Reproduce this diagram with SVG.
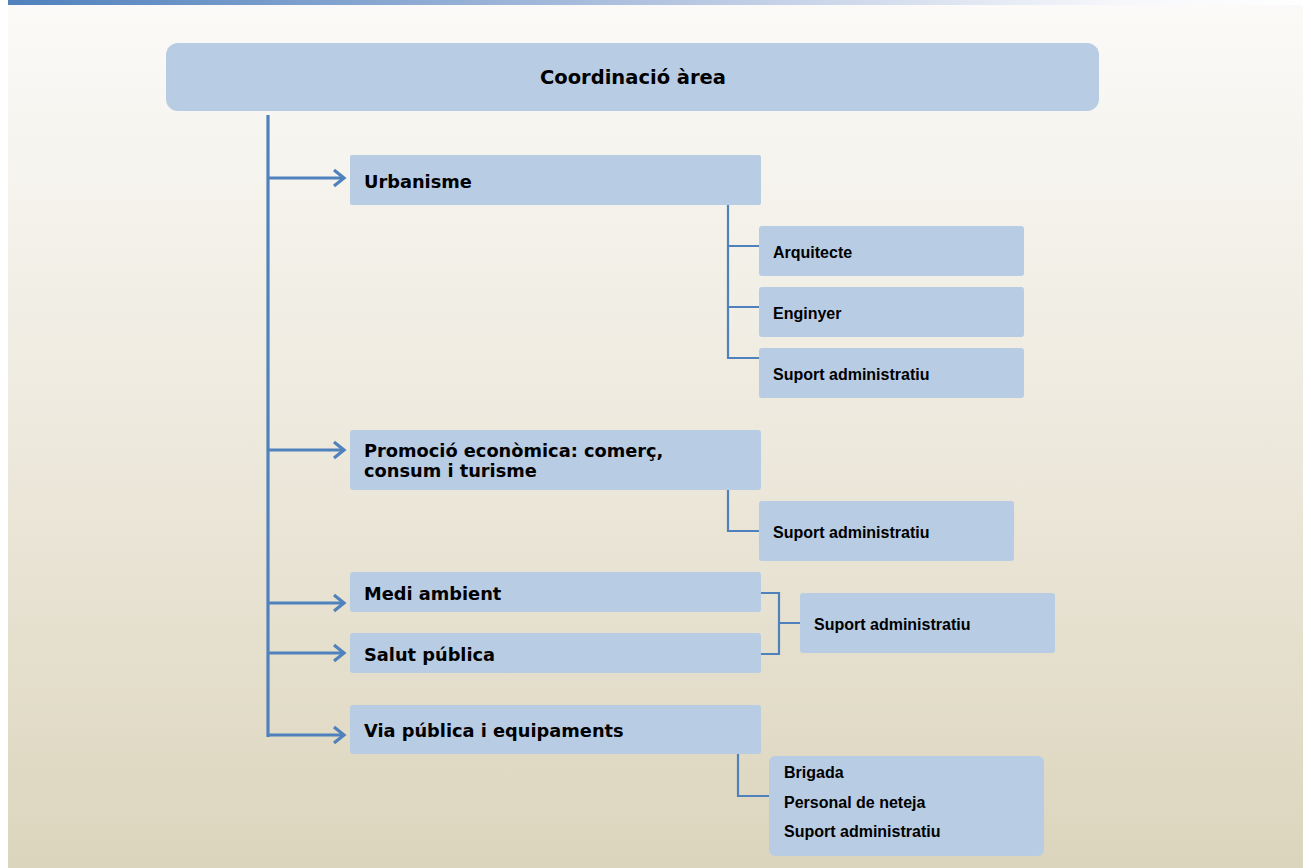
<svg xmlns="http://www.w3.org/2000/svg" width="1311" height="868" viewBox="0 0 1311 868">
<defs>
<linearGradient id="bg" x1="0" y1="0" x2="0" y2="1">
<stop offset="0" stop-color="#fbfaf8"/>
<stop offset="0.5" stop-color="#ede9dd"/>
<stop offset="1" stop-color="#dcd5bd"/>
</linearGradient>
<linearGradient id="bar" x1="0" y1="0" x2="1" y2="0">
<stop offset="0" stop-color="#4f81bd"/>
<stop offset="0.5" stop-color="#b3c4e0"/>
<stop offset="0.85" stop-color="#f6f7fb"/>
<stop offset="1" stop-color="#ffffff"/>
</linearGradient>
<marker id="arr" markerWidth="14" markerHeight="20" refX="11" refY="10" orient="auto" markerUnits="userSpaceOnUse">
<path d="M1,2 L11,10 L1,18" fill="none" stroke="#4f81bd" stroke-width="3.2"/>
</marker>
<style>
.box{fill:#b8cce4;}
.main{font-family:"DejaVu Sans",Verdana,sans-serif;font-weight:bold;font-size:17.8px;fill:#000;}
.top{font-size:19.5px;}
.sub{font-family:"Liberation Sans",Arial,sans-serif;font-weight:bold;font-size:16px;fill:#000;}
.trunk{stroke:#4f81bd;stroke-width:3.2;fill:none;}
.conn{stroke:#4f81bd;stroke-width:2.2;fill:none;}
</style>
</defs>
<rect x="0" y="0" width="1311" height="868" fill="#ffffff"/>
<rect x="8" y="5" width="1295" height="863" fill="url(#bg)"/>
<rect x="8" y="0" width="1303" height="5" fill="url(#bar)"/>

<g id="connectors">
<line class="trunk" x1="268" y1="115" x2="268" y2="737"/>
<line class="trunk" x1="268" y1="178" x2="344" y2="178" marker-end="url(#arr)"/>
<line class="trunk" x1="268" y1="450" x2="344" y2="450" marker-end="url(#arr)"/>
<line class="trunk" x1="268" y1="603" x2="344" y2="603" marker-end="url(#arr)"/>
<line class="trunk" x1="268" y1="653" x2="344" y2="653" marker-end="url(#arr)"/>
<line class="trunk" x1="268" y1="735" x2="344" y2="735" marker-end="url(#arr)"/>
<path class="conn" d="M728,205 V358 H759 M728,246 H759 M728,307 H759"/>
<path class="conn" d="M728,490 V531 H759"/>
<path class="conn" d="M761,593 H779 V654 H761 M779,623 H800"/>
<path class="conn" d="M738,754 V796 H769"/>
</g>

<g id="coordinacio">
<rect class="box" x="166" y="43" width="933" height="68" rx="12"/>
<text class="main top" x="633" y="84" text-anchor="middle">Coordinació àrea</text>
</g>
<g id="urbanisme">
<rect class="box" x="350" y="155" width="411" height="50" rx="2"/>
<text class="main" x="364" y="188">Urbanisme</text>
</g>
<g id="arquitecte">
<rect class="box" x="759" y="226" width="265" height="50" rx="3"/>
<text class="sub" x="773" y="258">Arquitecte</text>
</g>
<g id="enginyer">
<rect class="box" x="759" y="287" width="265" height="50" rx="3"/>
<text class="sub" x="773" y="319">Enginyer</text>
</g>
<g id="suport-urbanisme">
<rect class="box" x="759" y="348" width="265" height="50" rx="3"/>
<text class="sub" x="773" y="380">Suport administratiu</text>
</g>
<g id="promocio">
<rect class="box" x="350" y="430" width="411" height="60" rx="3"/>
<text class="main" x="364" y="457">Promoció econòmica: comerç,</text>
<text class="main" x="364" y="477">consum i turisme</text>
</g>
<g id="suport-promocio">
<rect class="box" x="759" y="501" width="255" height="60" rx="3"/>
<text class="sub" x="773" y="538">Suport administratiu</text>
</g>
<g id="medi">
<rect class="box" x="350" y="572" width="411" height="40" rx="3"/>
<text class="main" x="364" y="600">Medi ambient</text>
</g>
<g id="salut">
<rect class="box" x="350" y="633" width="411" height="40" rx="3"/>
<text class="main" x="364" y="661">Salut pública</text>
</g>
<g id="suport-medi-salut">
<rect class="box" x="800" y="593" width="255" height="60" rx="3"/>
<text class="sub" x="814" y="630">Suport administratiu</text>
</g>
<g id="via">
<rect class="box" x="350" y="705" width="411" height="49" rx="3"/>
<text class="main" x="364" y="737">Via pública i equipaments</text>
</g>
<g id="via-sub">
<rect class="box" x="769" y="756" width="275" height="100" rx="6"/>
<text class="sub" x="784" y="778">Brigada</text>
<text class="sub" x="784" y="808">Personal de neteja</text>
<text class="sub" x="784" y="837">Suport administratiu</text>
</g>
</svg>
